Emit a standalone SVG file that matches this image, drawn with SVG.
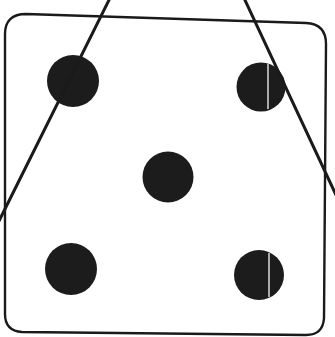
<svg xmlns="http://www.w3.org/2000/svg" width="335" height="337" viewBox="0 0 335 337">
<style>
.edge{fill:none;stroke:#1a1a1a;stroke-width:2.4;stroke-linecap:round;stroke-linejoin:round}
.cut{fill:none;stroke:#1a1a1a;stroke-width:3;stroke-linecap:round}
.pip{fill:#1c1c1c}
.gap{stroke:#e8e8e8;stroke-width:1.4}
</style>
<rect width="335" height="337" fill="#ffffff"/>
<g id="face">
<path class="edge" d="M26,14 L306,23 Q326,24 326,44 L324,318 Q323,335 306,335 L22,332 Q5,331 5,314 L5,34 Q5,14 26,14 Z"/>
</g>
<g id="pip-tl"><circle class="pip" cx="73" cy="81" r="26"/></g>
<g id="pip-tr"><circle class="pip" cx="261" cy="87" r="24.5"/><line class="gap" x1="268" y1="64" x2="268" y2="109"/></g>
<g id="pip-c"><circle class="pip" cx="168" cy="177" r="25.5"/></g>
<g id="pip-bl"><circle class="pip" cx="71" cy="269" r="26"/></g>
<g id="pip-br"><circle class="pip" cx="259" cy="275" r="25"/><line class="gap" x1="269" y1="253" x2="269" y2="297"/></g>
<g id="lines">
<line class="cut" x1="110" y1="-2" x2="-1" y2="221"/>
<line class="cut" x1="244" y1="-2" x2="336" y2="195"/>
</g>
</svg>
